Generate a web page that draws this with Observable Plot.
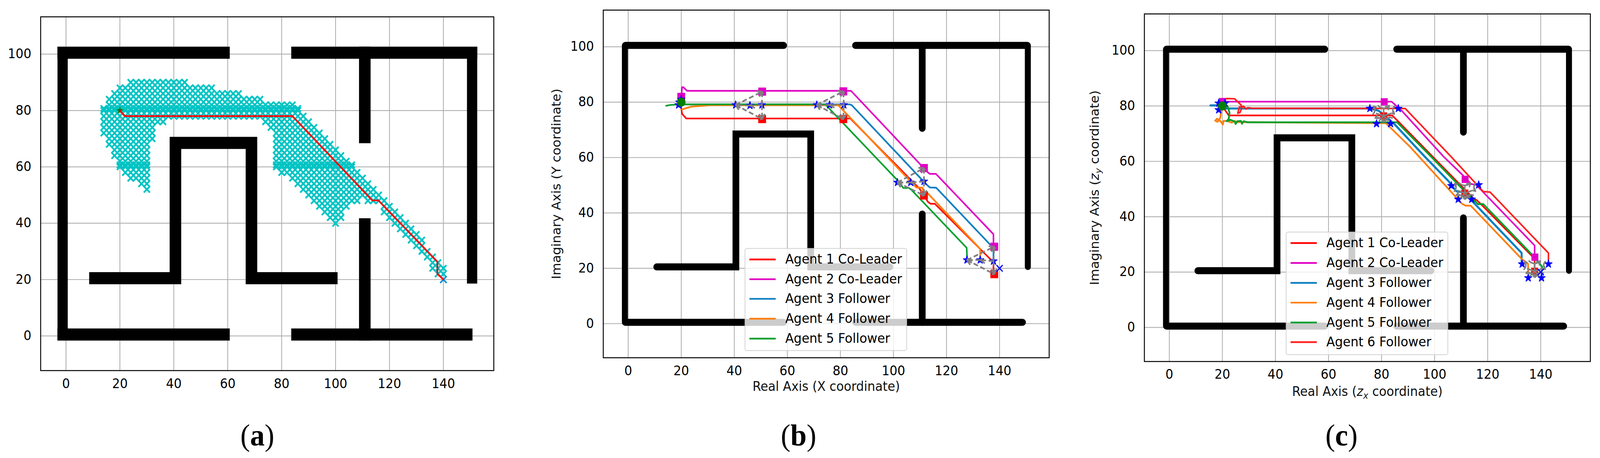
<!DOCTYPE html>
<html><head><meta charset="utf-8">
<script src="https://cdn.jsdelivr.net/npm/d3@7"></script>
<script src="https://cdn.jsdelivr.net/npm/@observablehq/plot@0.6"></script>
<style>
html,body{margin:0;padding:0;background:#fff;height:1173px;overflow:hidden}
#root{position:relative;width:4290px;height:1173px;transform-origin:0 0}
.panel{position:absolute;top:0}
.panel svg{display:block;max-width:none}
.cap{position:absolute;top:1060px;transform:translateX(-50%);font:78px "Liberation Serif",serif;line-height:110px;color:#000}
</style></head><body><div id="root"></div>
<script>
// the chart is laid out on the reference's 4290-wide canvas and fitted to the window
document.getElementById("root").style.transform=`scaleX(${Math.min(1,window.innerWidth/4290)})`;

const xTicks=[0,20,40,60,80,100,120,140];
const yTicks=[0,20,40,60,80,100];
const xDomain=[-9.4,158.7];
const yDomain=[-12.3,113.25];

// Maze walls (centre lines)
const outerWalls=[[[-1.25,100.5],[-1.25,0.5]],[[150.65,100.5],[150.65,20.5]]];
const innerWalls=[
 [[-1.05,100.5],[58.6,100.5]],
 [[-1.05,0.5],[58.6,0.5]],
 [[85.7,100.5],[150.45,100.5]],
 [[85.7,0.5],[148.65,0.5]],
 [[110.85,100.5],[110.85,70.55]],
 [[110.85,0.5],[110.85,39.6]],
 [[10.75,20.5],[40.6,20.5],[40.6,68.5],[68.8,68.5],[68.8,20.5],[98.6,20.5]]
];

// Panel (a): explored nodes, [y, [xStart,xEnd], ...] on the search grid
const exploredRows=[
 [90,[24,44]],[88,[20,54]],[86,[18,64]],[84,[16,72]],[82,[16,84]],[80.7,[14,86]],[80,[14,86]],[78,[14,88]],
 [76,[14,36],[74,90]],[74,[14,32],[76,92]],[72,[14,32],[78,94]],[70,[16,32],[78,96]],
 [68,[16,30],[78,98]],[66,[18,30],[78,100]],[64,[18,30],[78,102]],[62,[20,30],[78,104]],
 [60.7,[20,30],[78,106]],[60,[20,30],[78,106]],[58,[22,30],[80,108]],[56,[24,30],[84,110]],[54,[28,30],[86,112]],
 [52,[30,30],[88,114]],[50,[90,116]],[48,[92,108],[112,118]],[46,[94,104],[118,120]],
 [44,[96,102],[118,122]],[42,[98,102],[120,124]],[40,[100,100],[122,126]],[38,[124,128]],
 [36,[126,130]],[34,[128,132]],[32,[130,132]],[30,[132,134]],[28,[134,136]],[26,[136,138]],
 [24,[136,140]],[22,[138,140]]
];
const aPath=[[20,80],[21.8,78],[84,78],[113.6,48.1],[115.9,48.1],[137.8,26.3],[137.8,22],[140,20]];
const startPoint=[20,80];
const goalPoint=[140,20];

// Panel (b)
const bAgent1=[[20,80],[20,77.9],[20.3,75.8],[21.9,74.1],[83.7,74.1],[109.8,48.8],[111.4,46.4],[113,44],[114,43.3],[115.6,43.3],[133.9,25.8],[137.7,22.2],[137.7,18]];
const bAgent2=[[20,81.4],[20.3,85.4],[20.8,85.4],[22.2,84.1],[84,84.1],[113,54.6],[113.7,54.1],[116,54.1],[137.7,32.3],[137.7,27.8]];
const bAgent3=[[20,79.2],[83.5,79.2],[84.3,78.9],[112.1,50.6],[113.7,49.2],[116.1,49.1],[136.2,28.8],[137.7,27.4],[137.7,22.6]];
const bAgent4=[[20.3,77.4],[23.8,78.4],[30.8,78.9],[79.2,78.9],[108.6,49.2],[111,49.1],[111.2,47.6],[113,47],[132.7,27],[132.7,23]];
const bAgent5=[[14.3,78.7],[16,79],[20,79.2],[74.3,79.2],[102,51.3],[103.7,49],[105.8,49],[106.7,48.4],[127.6,27.4],[127.8,23]];
const bMagenta=[[20,81.9],[50.5,83.8],[81.1,83.9],[111.5,56.2],[138,27.8]];
const bRed=[[50.5,73.9],[81.1,73.9],[111.5,46.3],[138,17.9]];
const bStars=[[19,79],[20,81],[19.3,80],[50.4,79],[45.9,78.8],[40.5,79],[81.3,79],[75.9,79],[71.1,79],[111.5,51.4],[106.5,51],[101.5,51],[137.7,22.6],[132.7,23],[127.7,23]];
// gray links per formation: magenta, red, star near, star mid, star far
const bFormations=[
 [[50.5,83.8],[50.5,73.9],[50.4,79],[45.9,78.8],[40.5,79]],
 [[81.1,83.9],[81.1,73.9],[81.3,79],[75.9,79],[71.1,79]],
 [[111.5,56.2],[111.5,46.3],[111.5,51.4],[106.5,51],[101.5,51]],
 [[138,27.8],[138,17.9],[137.7,22.6],[132.7,23],[127.7,23]]
];

// Panel (c)
const cAgent1=[[20,80],[21,78.5],[22.4,76.6],[84,76.6],[86.4,74.3],[115,46.3],[115.9,46],[118,44],[136.5,26],[137.7,24.6],[137.7,20.3]];
const cAgent2=[[20,81.55],[83.8,81.55],[87.6,78.3],[103.3,61.8],[110.3,55.3],[113.8,51.8],[115.5,51.6],[117.3,49.9],[137.7,29.6],[137.7,25.5]];
const cAgent3=[[15.5,80.2],[18,80.2],[20,79.4],[21,79.1],[75.4,79.1],[78.9,78.3],[84.9,73.4],[96.2,61.8],[105.2,52.9],[108.2,49.2],[110.5,48.9],[114.8,45],[132.8,26.9],[132.8,23]];
const cAgent4=[[19.9,79],[19.5,77.8],[19.2,75.7],[18.2,74.3],[17.3,74.7],[18,75.4],[19.2,74.6],[20.2,73.3],[20.4,74.6],[21.9,74.6],[23.5,74],[24.5,74.6],[25.5,74.2],[81.6,73.8],[90.7,65.3],[110.3,44.7],[111.7,44],[113.6,44],[132.8,24.8],[135.2,23],[135.4,19.5]];
const cAgent5=[[20,80],[21.9,80],[22.7,77.6],[22.4,75.4],[21.6,74.5],[23,75],[24.6,74.4],[25,73.5],[25.6,74.5],[27,74.6],[27.4,73.6],[28,74.5],[29.5,74.1],[85.9,74.1],[98.6,61.8],[109.9,50.6],[116.4,44.5],[118.3,44.6],[136.6,26.4],[140.5,22],[140.5,20.5]];
const cAgent6=[[20,81.8],[21.6,82.7],[24.6,82.6],[27,80.4],[27.5,79.6],[26.6,77.6],[25.8,77.4],[26.4,79.6],[28,79.9],[29,78.9],[29.6,79.4],[31,79.2],[88.9,79.1],[106.1,61.8],[118.3,49.1],[120.9,48.9],[142.9,26.9],[142.9,23]];
const cMagenta=[[20,81.6],[81,81.5],[111.5,53.5],[137.8,25.4]];
const cRed=[[80.8,76.4],[111.4,48.5],[137.7,20.3]];
const cStars=[[18.6,81],[18.6,78.6],[19.4,80],[21,81],[75.6,79.1],[86.3,79.1],[78.1,73.6],[83.4,73.6],[106.3,51.2],[116.6,51.5],[108.9,46.3],[114,46.3],[133,22.9],[142.9,22.9],[135.3,17.9],[140.3,17.9]];
const cSpokes=[[0,2.6],[-2.9,1],[2.9,1],[-1.8,-1.8],[1.8,-1.8]];
const cArcs=[[-2.1,3.7,2.1,3.7],[4,3.5,4,0.7],[3.2,-0.7,0.2,-2.1],[-0.2,-2.1,-3.2,-0.7],[-4,0.7,-3.8,3.5]];

// Legends
const bLegendLabels=["Agent 1 Co-Leader","Agent 2 Co-Leader","Agent 3 Follower","Agent 4 Follower","Agent 5 Follower"];
const bLegendColors=["#ff0000","#e000c4","#0a7fc0","#ff7f0e","#00a02c"];
const bLegendY=[23.2,16.05,8.97,1.8,-5.4];
const cLegendLabels=["Agent 1 Co-Leader","Agent 2 Co-Leader","Agent 3 Follower","Agent 4 Follower","Agent 5 Follower","Agent 6 Follower"];
const cLegendColors=["#ff0000","#e000c4","#0a7fc0","#ff7f0e","#00a02c","#ff2020"];
const cLegendY=[30.5,23.3,16.1,8.97,1.8,-5.3];

const flat=paths=>paths.flatMap((p,i)=>p.map(([x,y])=>({x,y,id:i})));
const pts=a=>a.map(([x,y])=>({x,y}));
const arrowHead=(color,context)=>{
  const ns="http://www.w3.org/2000/svg",doc=context.document;
  const m=doc.createElementNS(ns,"marker");
  m.setAttribute("viewBox","-10 -6 11 12");m.setAttribute("markerWidth",18);m.setAttribute("markerHeight",20);
  m.setAttribute("refX",0);m.setAttribute("refY",0);
  m.setAttribute("markerUnits","userSpaceOnUse");m.setAttribute("orient","auto-start-reverse");
  const p=doc.createElementNS(ns,"path");
  p.setAttribute("d","M-8,-4.5L0,0L-8,4.5");p.setAttribute("fill","none");p.setAttribute("stroke","#808080");p.setAttribute("stroke-width",2.6);
  m.appendChild(p);return m;
};

function basePanel(wide,thin,cap){
  const line=(paths,w)=>Plot.line(flat(paths),{x:"x",y:"y",z:"id",stroke:"#000",strokeWidth:w,strokeLinecap:cap,strokeLinejoin:"miter",strokeMiterlimit:6,curve:"linear"});
  return [
    Plot.gridX(xTicks,{stroke:"#b0b0b0",strokeOpacity:1,strokeWidth:2.2}),
    Plot.gridY(yTicks,{stroke:"#b0b0b0",strokeOpacity:1,strokeWidth:2.2}),
    line(outerWalls,thin),line(innerWalls,wide)
  ];
}
const axes=()=>[
  Plot.axisX(xTicks,{tickSize:0,tickPadding:21,label:null}),
  Plot.axisY(yTicks,{tickSize:0,tickPadding:25,label:null}),
  Plot.frame({stroke:"#000",strokeWidth:2.5})
];
const agentLine=(path,color,w)=>Plot.line(pts(path),{x:"x",y:"y",stroke:color,strokeWidth:w,strokeLinejoin:"round",curve:"linear"});
const dots=(arr,symbol,r,fill)=>Plot.dot(pts(arr),{x:"x",y:"y",symbol,r,fill,stroke:"none"});
const starDots=arr=>Plot.dot(pts(arr),{x:"x",y:"y",symbol:"star",r:6.2,fill:"#0000ff",stroke:"#0000ff",strokeWidth:2,strokeLinejoin:"round"});
const legend=(labels,colors,ys,top,bottom)=>{
  const rows=labels.map((label,i)=>({label,color:colors[i],y:ys[i]}));
  return [
    Plot.rect([{a:44.1,b:105.05,c:bottom,d:top}],{x1:"a",x2:"b",y1:"c",y2:"d",fill:"#fff",fillOpacity:0.8,stroke:"#cccccc",strokeOpacity:.8,strokeWidth:2.2,rx:5}),
    Plot.link(rows,{x1:()=>45.7,x2:()=>55.6,y1:"y",y2:"y",stroke:"color",strokeWidth:4.4}),
    Plot.text(rows,{x:()=>59.2,y:"y",text:"label",textAnchor:"start",fontSize:33.5,fill:"#000"})
  ];
};
const axisTitles=(xl,yl,dy,dx)=>[
  Plot.text([xl],{frameAnchor:"bottom",textAnchor:"middle",dy,fontSize:33,text:d=>d,fill:"#111"}),
  Plot.text([yl],{frameAnchor:"left",textAnchor:"middle",dx,rotate:-90,fontSize:33,text:d=>d,fill:"#111"})
];
function mount(plot,left,label,capX){
  const root=document.getElementById("root");
  const d=document.createElement("div");d.className="panel";d.style.left=left+"px";d.appendChild(plot);root.appendChild(d);
  const c=document.createElement("div");c.className="cap";c.style.left=capX+"px";
  c.innerHTML="(<b>"+label+"</b>)";root.appendChild(c);
}
const base={height:1060,x:{domain:xDomain},y:{domain:yDomain},
  style:{fontFamily:"'DejaVu Sans',sans-serif",fontSize:"33px",background:"transparent",color:"#000"}};

// ---- panel a ----
const explored=exploredRows.flatMap(([y,...spans])=>spans.flatMap(([a,b])=>d3.range(a,b+1,2).map(x=>({x,y}))));
const plotA=Plot.plot({...base,width:1430,marginLeft:108.5,marginRight:106.5,marginTop:42.6,marginBottom:1060-948.6,
  marks:[
    ...basePanel(31,27.5,"square"),
    Plot.dot(explored,{x:"x",y:"y",symbol:"times",r:7.4,stroke:"#00c4c4",strokeWidth:4.6}),
    Plot.dot(pts([goalPoint]),{x:"x",y:"y",symbol:"times",r:8,stroke:"#1090d8",strokeWidth:4}),
    Plot.dot(pts([startPoint]),{x:"x",y:"y",symbol:"star",r:6.5,fill:"#007a10",stroke:"none"}),
    agentLine(aPath,"#ff0000",4.2),
    ...axes()
  ]});
mount(plotA,0,"a",690);

// ---- panel b ----
const bDiag=bFormations.flatMap(([m,r,s1,s2,s3])=>[[s3,m],[s3,r]]);
const bLinks=bFormations.flatMap(([m,r,s1,s2,s3])=>[[s1,m],[s1,r],[s1,s2],[s2,s3]]);
const linkRows=a=>a.map(([p,q])=>({x1:p[0],y1:p[1],x2:q[0],y2:q[1]}));
const grayLink={x1:"x1",y1:"y1",x2:"x2",y2:"y2",stroke:"#808080",strokeWidth:4.4,strokeDasharray:"13,7"};
const plotB=Plot.plot({...base,width:1430,marginLeft:187,marginRight:47.4,marginTop:25.4,marginBottom:1060-915.7,
  marks:[
    ...basePanel(18,16,"round"),
    agentLine(bAgent1,"#ff0000",4.2),agentLine(bAgent2,"#e000c4",4.2),agentLine(bAgent3,"#0a7fc0",4.4),
    agentLine(bAgent4,"#ff7f0e",4.6),agentLine(bAgent5,"#00a02c",4.2),
    dots(bMagenta,"square",11.8,"#e000c4"),dots(bRed,"square",11.8,"#ff0000"),
    starDots(bStars),
    Plot.link(linkRows(bDiag),{...grayLink,markerStart:arrowHead,markerEnd:arrowHead}),
    Plot.link(linkRows(bLinks),{...grayLink,markerEnd:arrowHead}),
    Plot.dot(pts([startPoint]),{x:"x",y:"y",r:11.5,fill:"#008000",stroke:"none"}),
    Plot.dot(pts([goalPoint]),{x:"x",y:"y",symbol:"times",r:7.6,stroke:"#0000ff",strokeWidth:3}),
    ...legend(bLegendLabels,bLegendColors,bLegendY,27.1,-9.8),
    ...axisTitles("Real Axis (X coordinate)","Imaginary Axis (Y coordinate)",85,-125),
    ...axes()
  ]});
mount(plotB,1430,"b",2141);

// ---- panel c ----
const cSpokeRows=cRed.flatMap(([x,y])=>cSpokes.map(([dx,dy])=>({x1:x,y1:y,x2:x+dx,y2:y+dy})));
const cArcRows=cRed.flatMap(([x,y])=>cArcs.map(([a,b,c,d])=>({x1:x+a,y1:y+b,x2:x+c,y2:y+d})));
const plotC=Plot.plot({...base,width:1430,marginLeft:207.9,marginRight:26.4,marginTop:35.2,marginBottom:1060-925.4,
  marks:[
    ...basePanel(18,16,"round"),
    agentLine(cAgent1,"#ff0000",4.2),agentLine(cAgent2,"#e000c4",4.2),agentLine(cAgent3,"#0a7fc0",5.4),
    agentLine(cAgent4,"#ff7f0e",4.6),agentLine(cAgent5,"#00a02c",4.6),agentLine(cAgent6,"#ff2020",4.2),
    dots(cMagenta,"square",10.5,"#e000c4"),dots(cRed,"square",10.5,"#ff0000"),
    starDots(cStars),
    Plot.link(cSpokeRows,{x1:"x1",y1:"y1",x2:"x2",y2:"y2",stroke:"#808080",strokeWidth:4}),
    Plot.arrow(cArcRows,{x1:"x1",y1:"y1",x2:"x2",y2:"y2",bend:-45,headLength:4,stroke:"#808080",strokeWidth:4}),
    Plot.dot(pts([startPoint]),{x:"x",y:"y",r:11.5,fill:"#008000",stroke:"none"}),
    Plot.dot(pts([goalPoint]),{x:"x",y:"y",symbol:"times",r:7.6,stroke:"#0000ff",strokeWidth:3}),
    ...legend(cLegendLabels,cLegendColors,cLegendY,34.4,-9.9),
    ...axisTitles("Real Axis (zx coordinate)","Imaginary Axis (zy coordinate)",88,-133),
    ...axes()
  ]});
mount(plotC,2860,"c",3597);

// math-style subscripts in panel (c)'s axis titles
function subscript(svg,plain,before,sub,after){
  const el=[...svg.querySelectorAll("text")].find(t=>t.textContent===plain);
  if(!el)return;
  const ns="http://www.w3.org/2000/svg";
  el.textContent=before;
  const z=document.createElementNS(ns,"tspan");z.setAttribute("font-style","italic");z.textContent="z";
  const s=document.createElementNS(ns,"tspan");s.setAttribute("font-style","italic");s.setAttribute("font-size","23");s.setAttribute("dy","7");s.textContent=sub;
  const r=document.createElementNS(ns,"tspan");r.setAttribute("dy","-7");r.textContent=after;
  el.append(z,s,r);
}
subscript(plotC,"Real Axis (zx coordinate)","Real Axis (","x"," coordinate)");
subscript(plotC,"Imaginary Axis (zy coordinate)","Imaginary Axis (","y"," coordinate)");
</script></body></html>
